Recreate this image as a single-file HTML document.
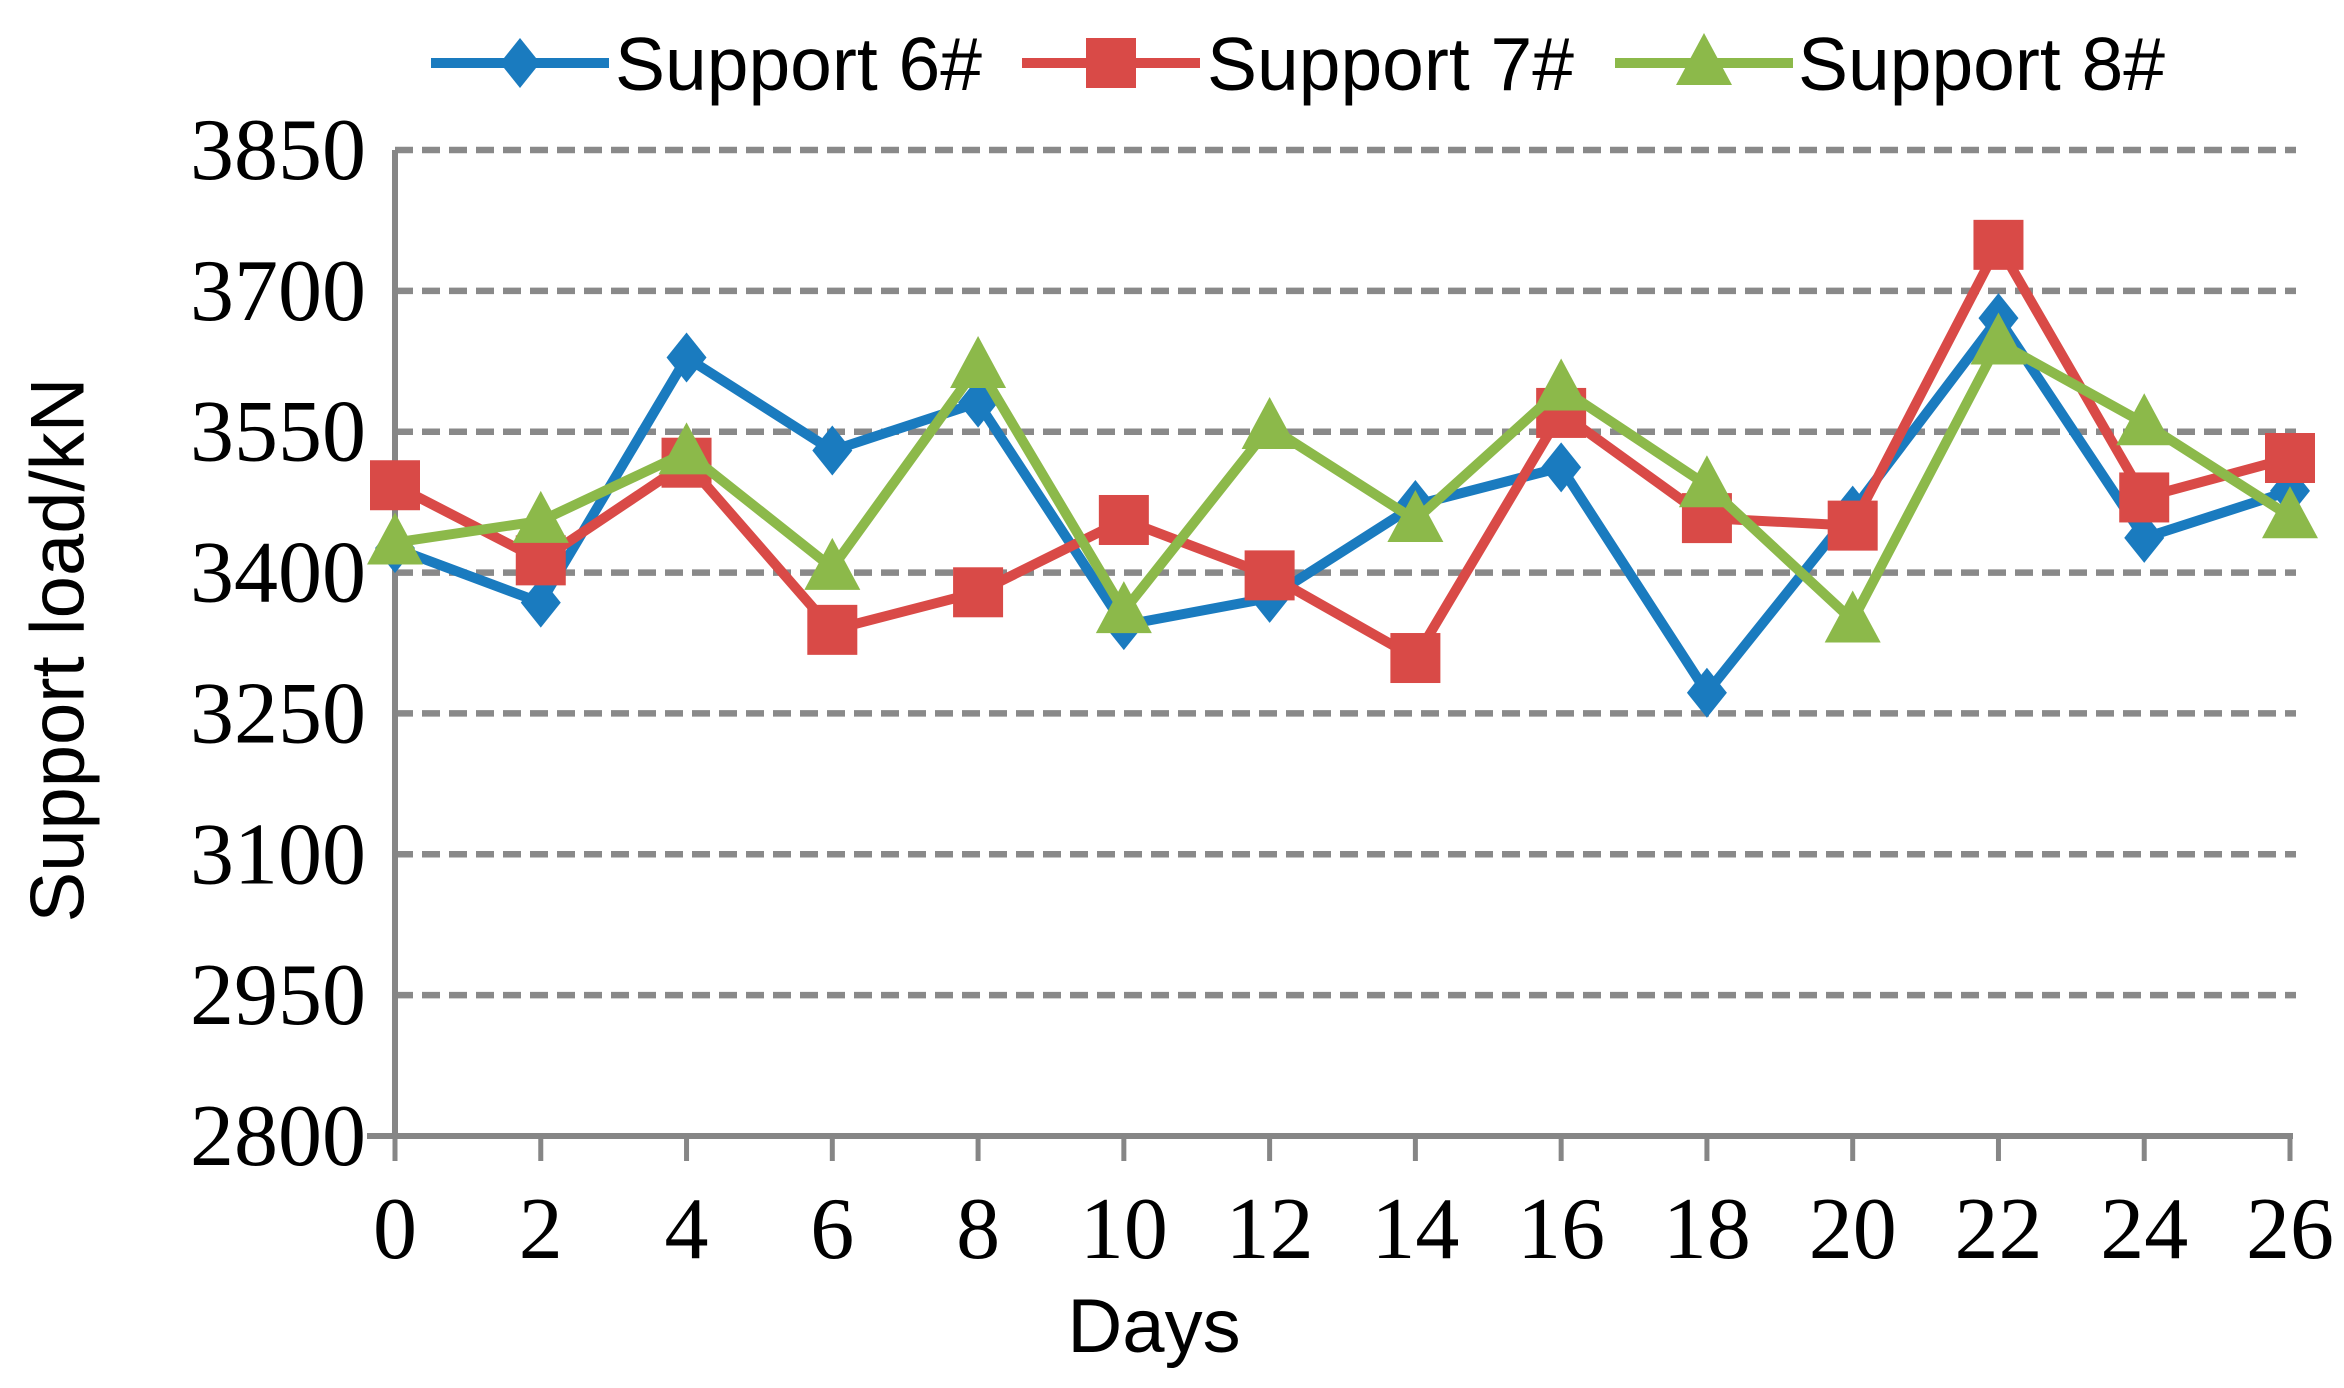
<!DOCTYPE html>
<html><head><meta charset="utf-8"><style>
html,body{margin:0;padding:0;background:#fff;width:2344px;height:1388px;overflow:hidden}
</style></head><body>
<svg id="chart" width="2344" height="1388" viewBox="0 0 2344 1388" xmlns="http://www.w3.org/2000/svg">
<g id="grid"></g>
<g id="axes"></g>
<g id="series"></g>
<g id="legend"></g>
<text x="0" y="0" transform="translate(58,650) rotate(-90)" text-anchor="middle" dominant-baseline="central" font-family="Liberation Sans, sans-serif" font-size="76">Support load/kN</text>
<text x="1154" y="1352" text-anchor="middle" font-family="Liberation Sans, sans-serif" font-size="76">Days</text>
</svg>
<script>
const days = [0,2,4,6,8,10,12,14,16,18,20,22,24,26];
const support6 = [3426,3368,3629,3530,3581,3344,3373,3472,3512,3272,3466,3671,3437,3487];
const support7 = [3493,3413,3517,3339,3379,3456,3397,3309,3570,3458,3450,3749,3480,3522];
const support8 = [3432,3455,3528,3405,3620,3359,3555,3456,3596,3493,3349,3645,3559,3460];
const yTicks = [2800,2950,3100,3250,3400,3550,3700,3850];
const xTicks = [0,2,4,6,8,10,12,14,16,18,20,22,24,26];

const NS='http://www.w3.org/2000/svg';
const X0=395,X1=2290,Y0=1136,Y1=150;
const xs=d=>X0+(d-0)/(26-0)*(X1-X0);
const ys=v=>Y0-(v-2800)/(3850-2800)*(Y0-Y1);
function mk(tag,attrs,parent){const e=document.createElementNS(NS,tag);for(const k in attrs)e.setAttribute(k,attrs[k]);parent.appendChild(e);return e;}
const grid=document.getElementById('grid'),axes=document.getElementById('axes'),ser=document.getElementById('series'),leg=document.getElementById('legend');

yTicks.forEach(v=>{
  if(v>2800){
    const l=mk('line',{x1:X0,x2:X1+6,y1:ys(v),y2:ys(v),stroke:'#898989','stroke-width':6.5,'stroke-dasharray':'18,9'},grid);
    
    
  }
  const t=mk('text',{x:366,y:ys(v)+29,'text-anchor':'end','font-family':'Liberation Serif, serif','font-size':88},axes);
  t.textContent=v;
  
  
});
mk('line',{x1:X0,x2:X0,y1:Y1,y2:Y0+3,stroke:'#868686','stroke-width':6},axes);
mk('line',{x1:X0-28,x2:X1+3,y1:Y0,y2:Y0,stroke:'#868686','stroke-width':6},axes);
xTicks.forEach(d=>{
  const tk=mk('line',{x1:xs(d),x2:xs(d),y1:Y0,y2:Y0+25,stroke:'#868686','stroke-width':5},axes);
  
  
  const t=mk('text',{x:xs(d),y:1258,'text-anchor':'middle','font-family':'Liberation Serif, serif','font-size':88},axes);
  t.textContent=d;
  
  
});

function marker(type,cx,cy,color,parent){
  let e;
  if(type==='diamond') e=mk('polygon',{points:`${cx},${cy-25} ${cx+20},${cy} ${cx},${cy+25} ${cx-20},${cy}`,fill:color},parent);
  else if(type==='square') e=mk('rect',{x:cx-25,y:cy-25,width:50,height:50,fill:color},parent);
  else e=mk('polygon',{points:`${cx},${cy-30} ${cx+28},${cy+22} ${cx-28},${cy+22}`,fill:color},parent);
  return e;
}
const list=[['support-6',support6,'#1a7bbf','diamond'],['support-7',support7,'#d94a47','square'],['support-8',support8,'#8cb94a','triangle']];
list.forEach(([name,vals,color,type])=>{
  const g=mk('g',{},ser);
  
  
  const pl=mk('polyline',{points:vals.map((v,i)=>xs(days[i])+','+ys(v)).join(' '),fill:'none',stroke:color,'stroke-width':10,'stroke-linejoin':'round'},g);
  
  vals.forEach((v,i)=>{
    const m=marker(type,xs(days[i]),ys(v),color,g);
    
    
  });
});
const legItems=[['Support 6#','#1a7bbf','diamond',431,615],['Support 7#','#d94a47','square',1022,1207],['Support 8#','#8cb94a','triangle',1615,1798]];
legItems.forEach(([label,color,type,lx,tx])=>{
  const g=mk('g',{},leg);
  
  
  mk('line',{x1:lx,x2:lx+178,y1:63,y2:63,stroke:color,'stroke-width':10},g);
  marker(type,lx+89,63,color,g);
  const t=mk('text',{x:tx,y:90,'font-family':'Liberation Sans, sans-serif','font-size':75},g);
  t.textContent=label;
  
  
});
</script>
</body></html>
